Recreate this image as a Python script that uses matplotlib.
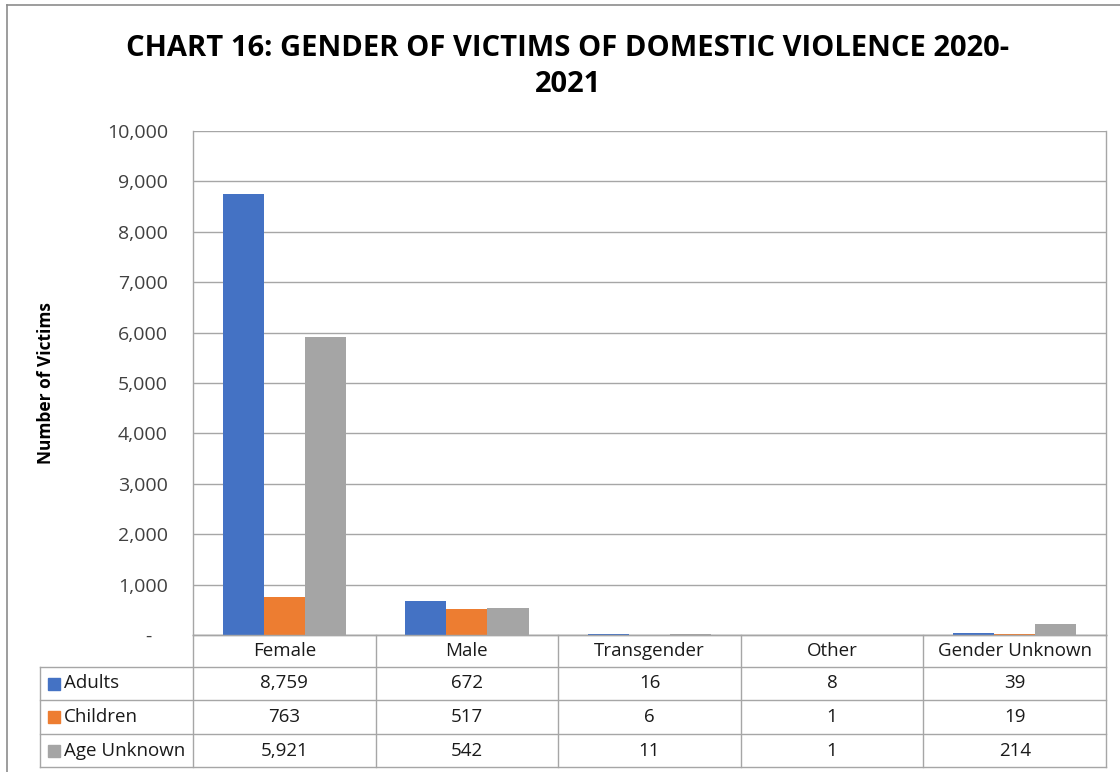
import matplotlib
matplotlib.use("Agg")
import matplotlib.pyplot as plt
import numpy as np
from matplotlib.lines import Line2D
from matplotlib.patches import Rectangle

categories = ["Female", "Male", "Transgender", "Other", "Gender Unknown"]
series_names = ["Adults", "Children", "Age Unknown"]
adults = [8759, 672, 16, 8, 39]
children = [763, 517, 6, 1, 19]
age_unknown = [5921, 542, 11, 1, 214]
series_values = [adults, children, age_unknown]
colors = ["#4472C4", "#ED7D31", "#A5A5A5"]
y_ticks = list(range(0, 10001, 1000))

plt.rcParams['font.family'] = ['Open Sans', 'DejaVu Sans']

W, H = 1120, 772
fig = plt.figure(figsize=(W / 100, H / 100), dpi=100)

def fx(px):
    return px / W

def fy(py):
    return 1 - py / H

x0, x1, ytop, ybot = 193, 1106, 131, 635
ax = fig.add_axes([fx(x0), fy(ybot), fx(x1) - fx(x0), fy(ytop) - fy(ybot)])

n = len(categories)
x = np.arange(n)
bw = 0.225
for i, (vals, c) in enumerate(zip(series_values, colors)):
    ax.bar(x + (i - 1) * bw, vals, width=bw, color=c, zorder=3, label=series_names[i])

ax.set_xlim(-0.5, n - 0.5)
ax.set_ylim(0, 10000)
ax.set_yticks(y_ticks)
ax.set_yticklabels(["-   "] + [f"{v:,}" for v in y_ticks[1:]])
ax.set_xticks([])
ax.tick_params(axis='y', length=0, labelsize=14, labelcolor="#404040", pad=18)
ax.yaxis.grid(True, color="#A6A6A6", linewidth=1, zorder=0)
ax.spines["top"].set_visible(False)
for s in ["left", "right", "bottom"]:
    ax.spines[s].set_color("#A6A6A6")
    ax.spines[s].set_linewidth(1)

fig.text(fx(46), fy(383), "Number of Victims", rotation=90, ha="center", va="center",
         fontsize=12.5, fontweight="bold")

# Title
fig.text(fx(568), fy(48), "CHART 16: GENDER OF VICTIMS OF DOMESTIC VIOLENCE 2020-",
         ha="center", va="center", fontsize=21, fontweight="bold")
fig.text(fx(568), fy(85), "2021", ha="center", va="center", fontsize=21, fontweight="bold")

# Outer chart border (left & top visible)
fig.add_artist(Line2D([fx(7), fx(7)], [fy(5), fy(772)], color="#8C8C8C", lw=1.2))
fig.add_artist(Line2D([fx(7), fx(1120)], [fy(5), fy(5)], color="#8C8C8C", lw=1.2))

# Data table
lc = "#A6A6A6"
cat_w = (x1 - x0) / n
row_y = [635, 667, 700, 734, 767]
left_tab = 40
fig.add_artist(Line2D([fx(x0), fx(x1)], [fy(row_y[0]), fy(row_y[0])], color=lc, lw=1))
for yy in row_y[1:]:
    fig.add_artist(Line2D([fx(left_tab), fx(x1)], [fy(yy), fy(yy)], color=lc, lw=1))
for k in range(n + 1):
    xx = x0 + k * cat_w
    fig.add_artist(Line2D([fx(xx), fx(xx)], [fy(row_y[0]), fy(row_y[-1])], color=lc, lw=1))
fig.add_artist(Line2D([fx(left_tab), fx(left_tab)], [fy(row_y[1]), fy(row_y[-1])], color=lc, lw=1))

tc = "#1a1a1a"
fs = 13.5
for k, cat in enumerate(categories):
    cx = x0 + (k + 0.5) * cat_w
    fig.text(fx(cx), fy((row_y[0] + row_y[1]) / 2), cat, ha="center", va="center",
             fontsize=fs, color=tc)
    for r, vals in enumerate(series_values):
        fig.text(fx(cx), fy((row_y[r + 1] + row_y[r + 2]) / 2), f"{vals[k]:,}",
                 ha="center", va="center", fontsize=fs, color=tc)

for r, (name, c) in enumerate(zip(series_names, colors)):
    cy = (row_y[r + 1] + row_y[r + 2]) / 2
    fig.add_artist(Rectangle((fx(48), fy(cy + 6)), fx(12), fy(0) - fy(12), color=c,
                             transform=fig.transFigure))
    fig.text(fx(64), fy(cy), name, ha="left", va="center", fontsize=fs, color=tc)

fig.savefig("out.png", dpi=100)
